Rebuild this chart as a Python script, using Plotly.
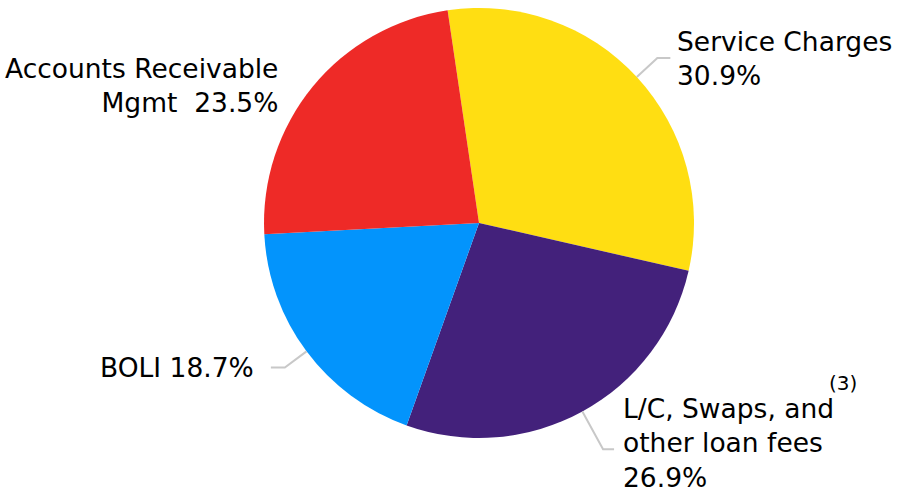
import math
import plotly.graph_objects as go

# Fee income mix
labels = ["Service Charges", "L/C, Swaps, and other loan fees", "BOLI", "Accounts Receivable Mgmt"]
values = [30.9, 26.9, 18.7, 23.5]
colors = ["#FFDE12", "#43217B", "#0394FC", "#EE2A27"]
label_text = [
    "Service Charges<br>30.9%",
    "L/C, Swaps, and<br>other loan fees<br>26.9%",
    "BOLI 18.7%",
    "Accounts Receivable<br>Mgmt  23.5%",
]

W, H = 898, 493
FONT = "DejaVu Sans"
FS = 26.5
ROTATION = -8.4

# pie box in pixels
cx, cy, R = 479, 223, 215


def px(x):
    return x / W


def py(y):
    return 1 - y / H


fig = go.Figure(
    go.Pie(
        labels=labels,
        values=values,
        marker=dict(colors=colors, line=dict(width=0)),
        sort=False,
        direction="clockwise",
        rotation=ROTATION,
        textinfo="none",
        hoverinfo="label+percent",
        showlegend=False,
        domain=dict(x=[px(cx - R), px(cx + R)], y=[py(cy + R), py(cy - R)]),
    )
)

# mid-angle of each slice (degrees clockwise from 12 o'clock)
total = sum(values)
mids = []
acc = 0.0
for v in values:
    mids.append(ROTATION + 360 * (acc + v / 2) / total)
    acc += v


def at(angle, r):
    a = math.radians(angle)
    return cx + r * math.sin(a), cy - r * math.cos(a)


# connector styling: (slice index, elbow offset beyond rim, horizontal run)
connectors = [(0, 28, 13), (1, 43, 11), (2, 27, -14)]
shapes = []
for i, ext, run in connectors:
    x0, y0 = at(mids[i], R)
    x1, y1 = at(mids[i], R + ext)
    x2 = x1 + run
    path = f"M {px(x0)} {py(y0)} L {px(x1)} {py(y1)} L {px(x2)} {py(y1)}"
    shapes.append(
        dict(type="path", xref="paper", yref="paper", path=path,
             line=dict(color="#C8C8C8", width=2))
    )

# label placement: (x, y, xanchor, align)
placements = [
    (675, 58, "left", "left"),
    (621, 443, "left", "left"),
    (256, 367, "right", "right"),
    (280, 86, "right", "right"),
]
annotations = []
for text, (x, y, xa, al) in zip(label_text, placements):
    annotations.append(
        dict(x=px(x), y=py(y), xref="paper", yref="paper", text=text,
             showarrow=False, xanchor=xa, yanchor="middle", align=al,
             font=dict(family=FONT, size=FS, color="#000000"))
    )
annotations.append(
    dict(x=px(843), y=py(383), xref="paper", yref="paper", text="(3)",
         showarrow=False, xanchor="center", yanchor="middle",
         font=dict(family=FONT, size=20, color="#000000"))
)

fig.update_layout(
    width=W,
    height=H,
    margin=dict(l=0, r=0, t=0, b=0),
    paper_bgcolor="white",
    plot_bgcolor="white",
    shapes=shapes,
    annotations=annotations,
)

fig.write_html("out.html")
